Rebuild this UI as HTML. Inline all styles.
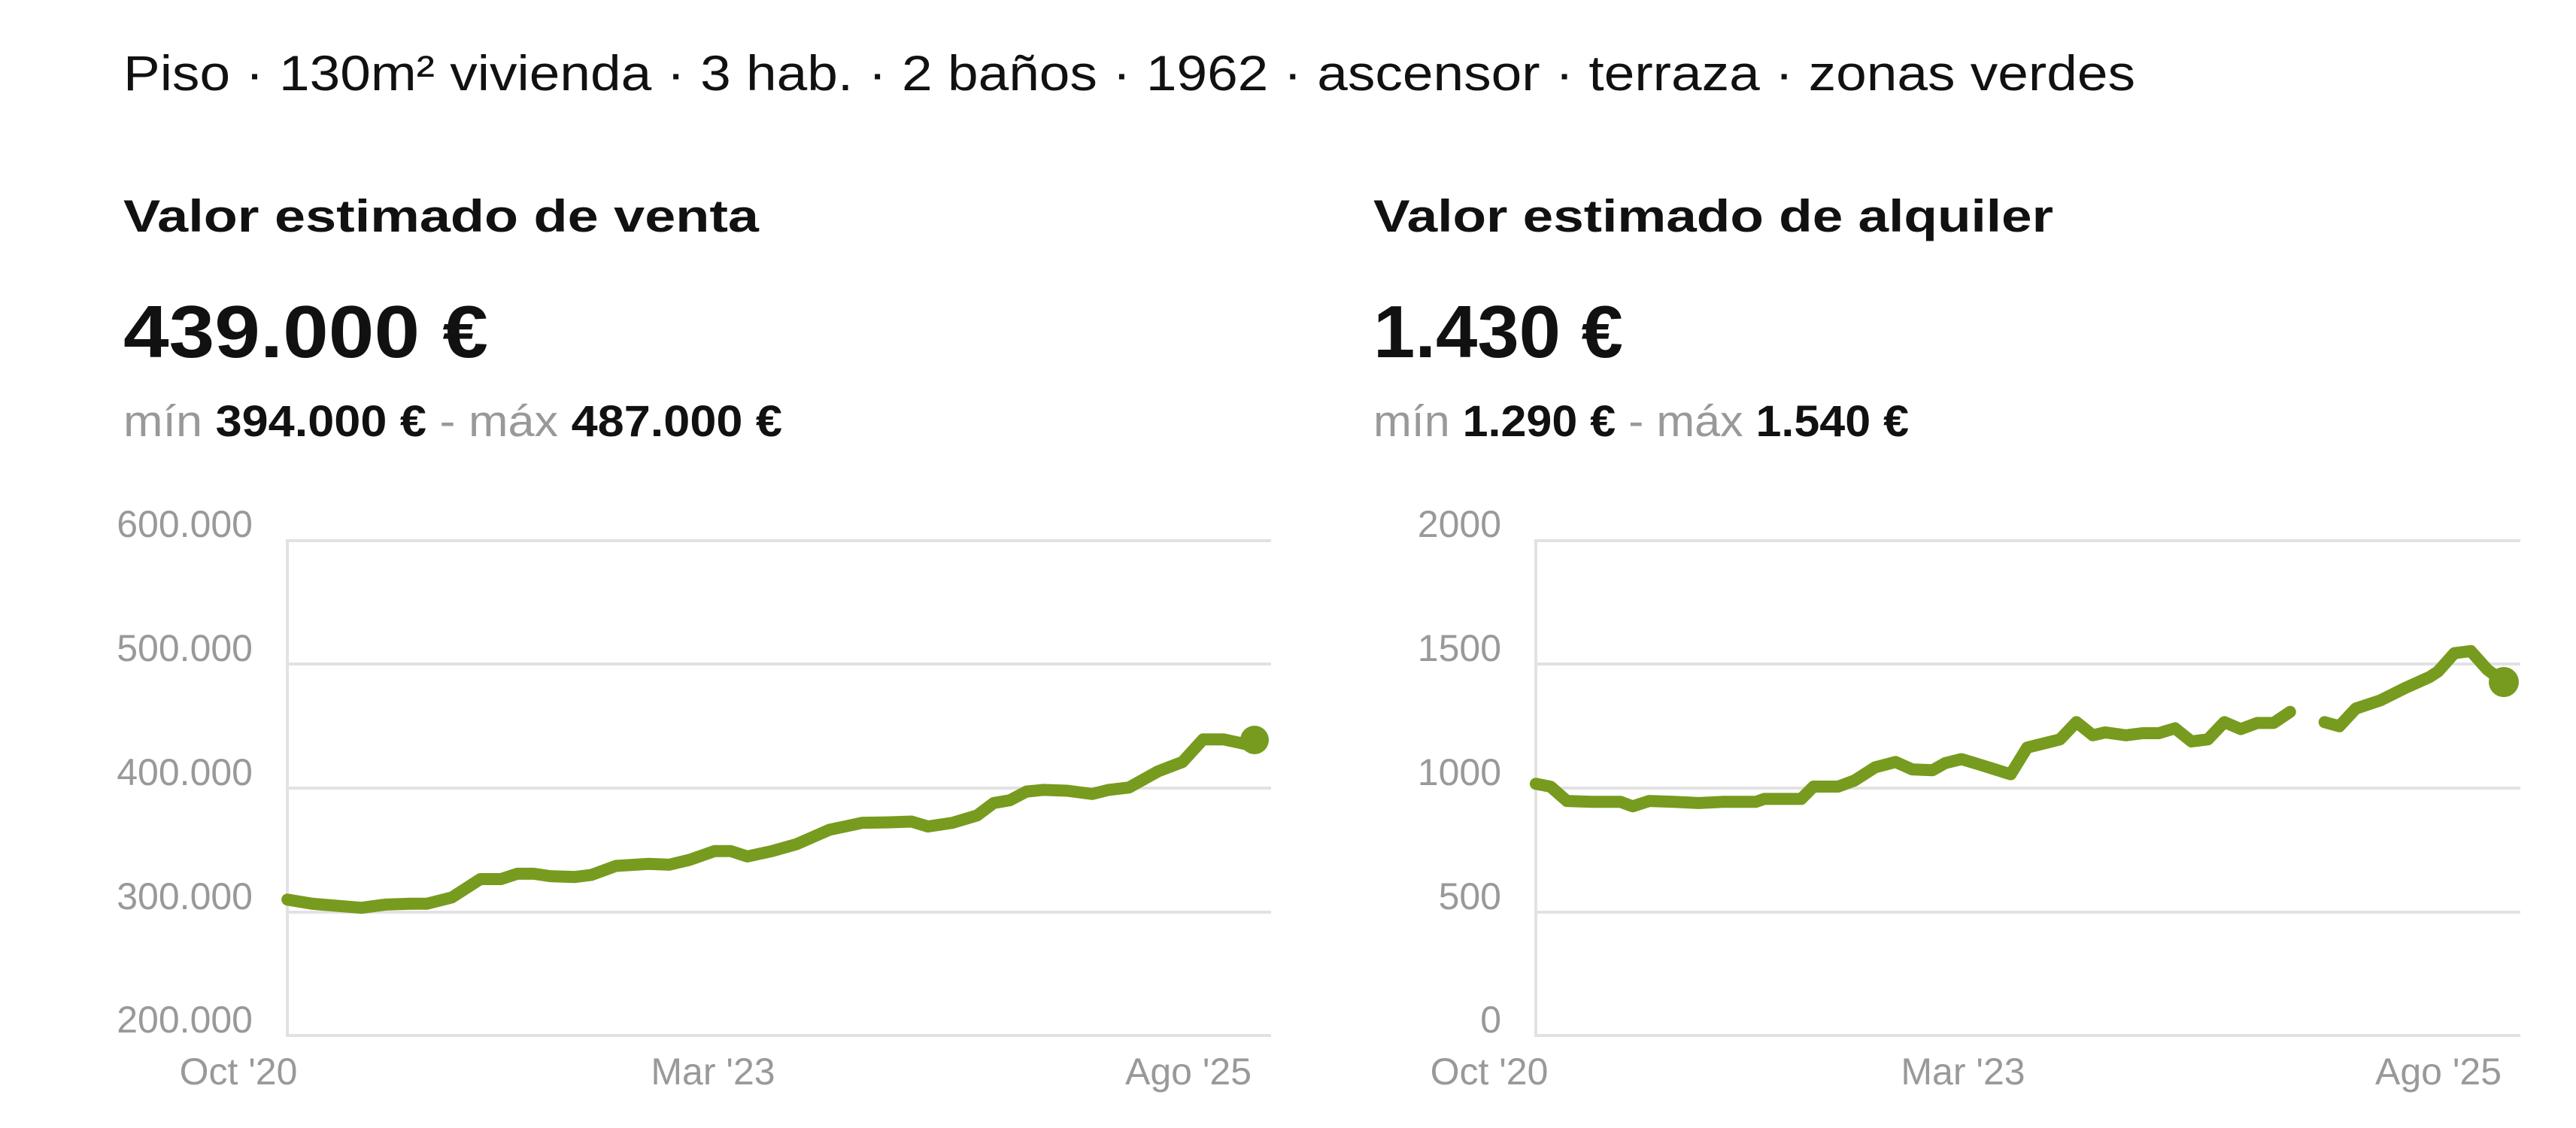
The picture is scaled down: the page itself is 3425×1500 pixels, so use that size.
<!DOCTYPE html>
<html><head><meta charset="utf-8"><style>
html,body{margin:0;padding:0;background:#fff;width:3425px;height:1500px;overflow:hidden}
svg{position:absolute;left:0;top:0}
text{font-family:"Liberation Sans",sans-serif}
</style></head><body>
<svg width="3425" height="1500" viewBox="0 0 3425 1500">
<text x="164" y="120" font-size="66" fill="#111" textLength="2675" lengthAdjust="spacingAndGlyphs">Piso · 130m² vivienda · 3 hab. · 2 baños · 1962 · ascensor · terraza · zonas verdes</text>
<text x="164" y="308" font-size="60" font-weight="bold" fill="#111" textLength="845" lengthAdjust="spacingAndGlyphs">Valor estimado de venta</text>
<text x="164" y="475" font-size="98" font-weight="bold" fill="#111" textLength="485" lengthAdjust="spacingAndGlyphs">439.000 €</text>
<text x="164" y="580" font-size="58" fill="#999" textLength="876" lengthAdjust="spacingAndGlyphs">mín <tspan font-weight="bold" fill="#111">394.000 €</tspan> - máx <tspan font-weight="bold" fill="#111">487.000 €</tspan></text>
<text x="1826" y="308" font-size="60" font-weight="bold" fill="#111" textLength="904" lengthAdjust="spacingAndGlyphs">Valor estimado de alquiler</text>
<text x="1826" y="475" font-size="98" font-weight="bold" fill="#111" textLength="332" lengthAdjust="spacingAndGlyphs">1.430 €</text>
<text x="1826" y="580" font-size="58" fill="#999" textLength="712" lengthAdjust="spacingAndGlyphs">mín <tspan font-weight="bold" fill="#111">1.290 €</tspan> - máx <tspan font-weight="bold" fill="#111">1.540 €</tspan></text>

<g stroke="#e2e2e2" stroke-width="4">
<line x1="382" y1="719" x2="1690" y2="719"/><line x1="382" y1="883" x2="1690" y2="883"/><line x1="382" y1="1048" x2="1690" y2="1048"/><line x1="382" y1="1213" x2="1690" y2="1213"/><line x1="382" y1="1377" x2="1690" y2="1377"/>
<line x1="382" y1="717" x2="382" y2="1379"/>
<line x1="2042" y1="719" x2="3351" y2="719"/><line x1="2042" y1="883" x2="3351" y2="883"/><line x1="2042" y1="1048" x2="3351" y2="1048"/><line x1="2042" y1="1213" x2="3351" y2="1213"/><line x1="2042" y1="1377" x2="3351" y2="1377"/>
<line x1="2042" y1="717" x2="2042" y2="1379"/>
</g>
<g font-size="50" fill="#999" text-anchor="end">
<text x="336" y="714">600.000</text><text x="336" y="879">500.000</text><text x="336" y="1044">400.000</text><text x="336" y="1209">300.000</text><text x="336" y="1373">200.000</text>
<text x="1996" y="714">2000</text><text x="1996" y="879">1500</text><text x="1996" y="1044">1000</text><text x="1996" y="1209">500</text><text x="1996" y="1373">0</text>
</g>
<g font-size="50" fill="#999" text-anchor="middle">
<text x="317" y="1442">Oct '20</text><text x="948" y="1442">Mar '23</text><text x="1580" y="1442">Ago '25</text>
<text x="1980" y="1442">Oct '20</text><text x="2610" y="1442">Mar '23</text><text x="3242" y="1442">Ago '25</text>
</g>
</svg>
<svg width="1712" height="850" style="left:0;top:650px" viewBox="0 0 1568 1556" preserveAspectRatio="none">
<polyline fill="none" stroke="#779b1e" stroke-width="16" vector-effect="non-scaling-stroke" stroke-linejoin="round" stroke-linecap="round" points="350,1000 380,1010 410,1015 440,1020 470,1012 500,1010 520,1010 550,995 585,950 610,950 630,937 650,937 670,943 700,945 720,940 750,918 790,913 815,915 840,903 870,882 890,882 910,895 940,882 970,865 1010,830 1050,813 1080,812 1110,810 1130,822 1160,813 1190,795 1210,765 1230,758 1250,737 1270,733 1300,735 1330,743 1350,733 1375,727 1410,688 1440,665 1465,610 1490,610 1525,625"/>
</svg>
<svg width="1713" height="850" style="left:1712px;top:650px" viewBox="0 0 1568 1556" preserveAspectRatio="none">
<polyline fill="none" stroke="#779b1e" stroke-width="16" vector-effect="non-scaling-stroke" stroke-linejoin="round" stroke-linecap="round" points="302,718 320,725 340,760 370,762 405,762 420,773 440,760 470,762 500,765 530,762 570,762 580,755 625,755 640,725 670,725 690,710 715,678 740,665 760,683 785,685 800,668 820,658 840,670 880,695 900,630 920,620 940,610 960,568 980,600 995,593 1020,600 1040,595 1060,595 1080,583 1100,615 1120,610 1140,568 1160,585 1180,570 1200,570 1220,543"/>
<polyline fill="none" stroke="#779b1e" stroke-width="16" vector-effect="non-scaling-stroke" stroke-linejoin="round" stroke-linecap="round" points="1262,568 1280,578 1300,535 1330,515 1360,485 1390,458 1400,445 1420,400 1440,395 1460,440 1480,470"/>
</svg>
<svg width="3425" height="1500" viewBox="0 0 3425 1500">
<circle cx="1668" cy="984" r="19" fill="#779b1e"/>
<circle cx="3329" cy="907" r="20" fill="#779b1e"/>
</svg>
</body></html>
